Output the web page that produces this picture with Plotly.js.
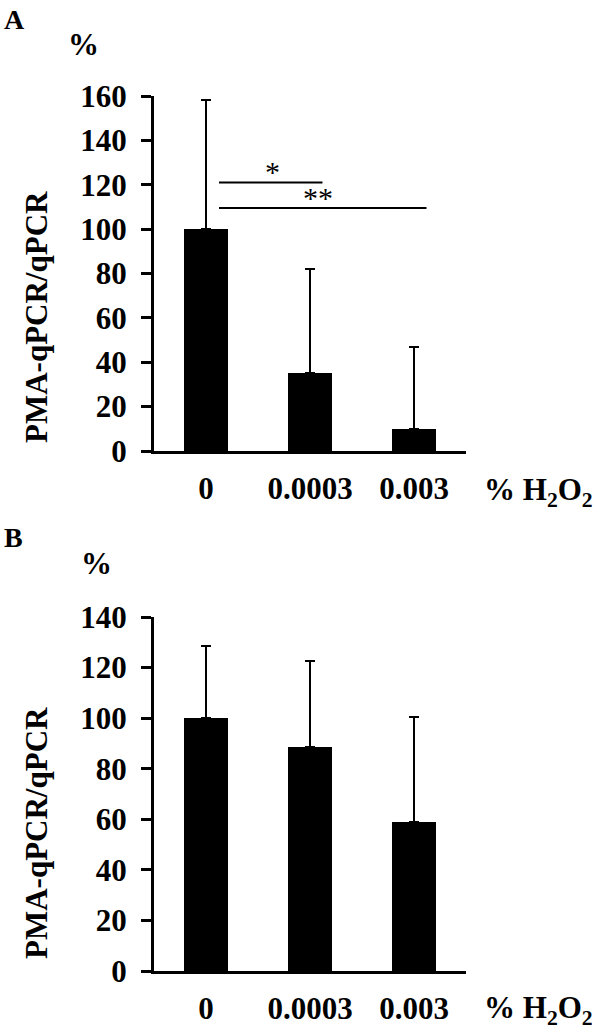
<!DOCTYPE html>
<html>
<head>
<meta charset="utf-8">
<script src="https://cdn.plot.ly/plotly-3.0.1.min.js"></script>
<style>html,body{margin:0;padding:0;background:#fff;}#chart{width:600px;height:1032px;}</style>
</head>
<body>
<div id="chart"></div>
<script>
// ---- data ----
const categories = ['0', '0.0003', '0.003'];
const meansA = [100, 35, 10];
const sdA = [58, 47, 37];
const meansB = [100, 88.5, 59];
const sdB = [28.5, 34, 41.5];
const sigFrom = [0, 0];
const sigTo = [1, 2];
const sigY = [121, 109.5];
const sigLabel = ['*', '**'];
const yTicksA = [0, 20, 40, 60, 80, 100, 120, 140, 160];
const yTicksB = [0, 20, 40, 60, 80, 100, 120, 140];

// ---- styling ----
const W = 600, H = 1032;
const serifBold = {family: 'Liberation Serif, Times New Roman, serif', size: 31, color: '#000', weight: 'bold'};
const xs = [0, 1, 2];
const py = p => (H - p) / H; // pixel y -> paper

function barTrace(means, sd, xa, ya) {
  return {
    type: 'bar', x: xs, y: means, xaxis: xa, yaxis: ya,
    width: 0.415,
    marker: {color: '#000', line: {width: 0}},
    error_y: {type: 'data', symmetric: false, array: sd, arrayminus: sd.map(() => 0),
              color: '#000', thickness: 2, width: 5},
    hoverinfo: 'none', showlegend: false
  };
}

const xCommon = {
  range: [-0.5, 2.5], tickmode: 'array', tickvals: xs, ticktext: categories,
  showline: true, linecolor: '#000', linewidth: 3, ticks: '', showgrid: false, zeroline: false,
  tickfont: Object.assign({}, serifBold), ticklabelstandoff: 8, automargin: false, fixedrange: true
};
const yCommon = {
  showline: true, linecolor: '#000', linewidth: 3, ticks: 'outside', ticklen: 10, tickwidth: 3,
  tickcolor: '#000', showgrid: false, zeroline: false, tickfont: Object.assign({}, serifBold),
  ticklabelstandoff: 8, automargin: false, fixedrange: true
};

const layout = {
  width: W, height: H, margin: {l: 0, r: 0, t: 0, b: 0},
  paper_bgcolor: '#fff', plot_bgcolor: 'rgba(0,0,0,0)',
  font: Object.assign({}, serifBold), bargap: 0,
  xaxis: Object.assign({}, xCommon, {domain: [154 / W, 466 / W], anchor: 'y'}),
  yaxis: Object.assign({}, yCommon, {domain: [py(451), py(96)], range: [0, 160], tickvals: yTicksA, anchor: 'x'}),
  xaxis2: Object.assign({}, xCommon, {domain: [154 / W, 466 / W], anchor: 'y2'}),
  yaxis2: Object.assign({}, yCommon, {domain: [py(971), py(617)], range: [0, 140], tickvals: yTicksB, anchor: 'x2'}),
  shapes: [],
  annotations: []
};

// significance brackets (panel A)
for (let i = 0; i < sigY.length; i++) {
  layout.shapes.push({type: 'line', xref: 'x', yref: 'y', x0: sigFrom[i] + 0.125, x1: sigTo[i] + 0.12,
    y0: sigY[i], y1: sigY[i], line: {color: '#000', width: 2}});
}
const starX = [0.64, 1.08];
for (let i = 0; i < sigLabel.length; i++) {
  layout.annotations.push({xref: 'x', yref: 'y', x: starX[i], y: sigY[i] + 4.8, text: sigLabel[i],
    showarrow: false, xanchor: 'center', yanchor: 'middle',
    font: {family: 'Liberation Serif, Times New Roman, serif', size: 30, color: '#000', weight: 'normal'}});
}

function ann(text, xPx, yPx, opts) {
  return Object.assign({xref: 'paper', yref: 'paper', x: xPx / W, y: py(yPx), text: text,
    showarrow: false, xanchor: 'left', yanchor: 'middle', font: Object.assign({}, serifBold)}, opts || {});
}
layout.annotations.push(
  ann('A', 2, 19, {font: Object.assign({}, serifBold, {size: 28})}),
  ann('%', 66, 45),
  ann('PMA-qPCR/qPCR', 36, 317, {textangle: -90, xanchor: 'center'}),
  ann('% H<sub>2</sub>O<sub>2</sub>', 482, 492),
  ann('B', 2, 537, {font: Object.assign({}, serifBold, {size: 28})}),
  ann('%', 79, 563),
  ann('PMA-qPCR/qPCR', 36, 833, {textangle: -90, xanchor: 'center'}),
  ann('% H<sub>2</sub>O<sub>2</sub>', 482, 1010)
);

Plotly.newPlot('chart', [barTrace(meansA, sdA, 'x', 'y'), barTrace(meansB, sdB, 'x2', 'y2')], layout,
  {staticPlot: true, displayModeBar: false});
</script>
</body>
</html>
